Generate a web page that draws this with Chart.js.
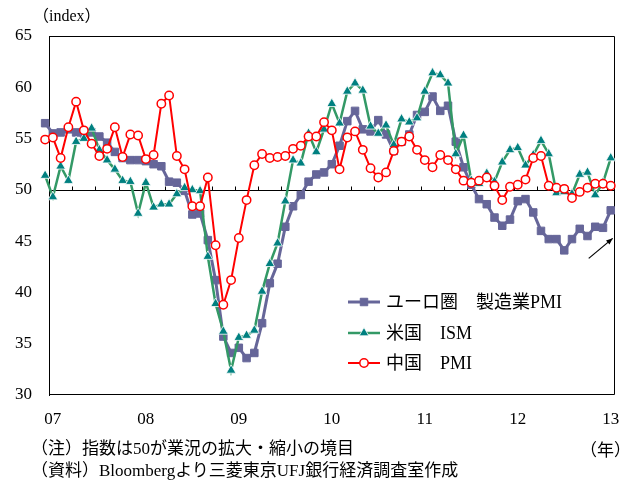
<!DOCTYPE html>
<html><head><meta charset="utf-8">
<script src="https://cdn.jsdelivr.net/npm/chart.js@4.4.1/dist/chart.umd.min.js"></script>
<style>
html,body{margin:0;padding:0;background:#fff;}
#wrap{position:relative;width:621px;height:485px;overflow:hidden;background:#fff;}
#c{position:absolute;left:0;top:0;}
.t{position:absolute;font-family:"Liberation Serif","Noto Sans CJK JP",serif;color:#000;white-space:nowrap;line-height:1;}
</style></head><body>
<div id="wrap">
<canvas id="c" width="621" height="485"></canvas>
<div class="t" style="left:33px;top:8px;font-size:16px;">（index）</div>
<div class="t" style="left:31px;top:440px;font-size:17px;">（注）指数は50が業況の拡大・縮小の境目</div>
<div class="t" style="left:31px;top:462px;font-size:17px;">（資料）Bloombergより三菱東京UFJ銀行経済調査室作成</div>
<div class="t" style="left:580px;top:442px;font-size:17px;">（年）</div>
</div>
<script>
// ---- data (Dec 2006 .. Jan 2013, monthly) ----
const months = [];
for (let yr = 2006; yr <= 2013; yr++) {
  for (let m = 1; m <= 12; m++) {
    if (yr === 2006 && m < 12) continue;
    if (yr === 2013 && m > 1) break;
    months.push(yr + '-' + String(m).padStart(2, '0'));
  }
}
const seriesNames = ['ユーロ圏　製造業PMI', '米国　ISM', '中国　PMI'];
const yTicks = [30, 35, 40, 45, 50, 55, 60, 65];

const euroPMI = [
  56.5,
  55.5, 55.6, 55.9, 55.6, 55.5, 55.6, 55.2, 54.6, 53.7, 53.1, 52.9, 52.9,
  52.8, 52.5, 52.3, 50.8, 50.7, 49.9, 47.6, 47.7, 45.1, 41.2, 35.7, 34.1,
  34.6, 33.6, 34.1, 37.0, 40.9, 42.8, 46.4, 48.4, 49.5, 50.8, 51.5, 51.7,
  52.5, 54.3, 56.7, 57.7, 55.9, 55.7, 56.8, 55.4, 53.8, 54.7, 55.4, 57.3,
  57.6, 59.1, 57.7, 58.2, 54.7, 52.2, 50.5, 49.1, 48.6, 47.3, 46.5, 47.1,
  48.9, 49.1, 47.8, 46.0, 45.2, 45.2, 44.1, 45.2, 46.2, 45.5, 46.4, 46.3,
  48.0
];
const usISM = [
  51.4,
  49.3, 52.3, 50.9, 54.7, 55.0, 56.0, 53.9, 52.9, 52.0, 50.9, 50.8, 47.7,
  50.7, 48.3, 48.6, 48.6, 49.6, 50.2, 50.0, 49.9, 43.5, 38.9, 36.2, 32.4,
  35.6, 35.8, 36.3, 40.1, 42.8, 44.8, 48.9, 52.9, 52.6, 55.5, 53.7, 55.9,
  58.4, 56.5, 59.6, 60.4, 59.7, 56.2, 55.5, 56.3, 54.4, 56.9, 56.6, 57.0,
  59.6, 61.4, 61.2, 60.4, 53.5, 55.3, 50.9, 50.6, 51.6, 50.8, 52.7, 53.9,
  54.1, 52.4, 53.4, 54.8, 53.5, 49.7, 49.8, 49.6, 51.5, 51.7, 49.5, 50.7,
  53.1
];
const chinaPMI = [
  54.9,
  55.1, 53.1, 56.1, 58.6, 55.8, 54.5, 53.3, 54.0, 56.1, 53.2, 55.4, 55.3,
  53.0, 53.4, 58.4, 59.2, 53.3, 52.0, 48.4, 48.4, 51.2, 44.6, 38.8, 41.2,
  45.3, 49.0, 52.4, 53.5, 53.1, 53.2, 53.3, 54.0, 54.3, 55.2, 55.2, 56.6,
  55.8, 52.0, 55.1, 55.7, 53.9, 52.1, 51.2, 51.7, 53.8, 54.7, 55.2, 53.9,
  52.9, 52.2, 53.4, 52.9, 52.0, 50.9, 50.7, 50.9, 51.2, 50.4, 49.0, 50.3,
  50.5, 51.0, 53.1, 53.3, 50.4, 50.2, 50.1, 49.2, 49.8, 50.2, 50.6, 50.6,
  50.4
];

const FONT = '"Liberation Serif", "Noto Sans CJK JP", serif';
const CLIP = {left: 9, top: 0, right: 4, bottom: 0};

const decor = {
  id: 'decor',
  beforeDatasetsDraw(chart) {
    const {ctx, chartArea: a, scales: {x, y}} = chart;
    ctx.save();
    ctx.strokeStyle = '#000';
    ctx.lineWidth = 1;
    const L = Math.round(a.left) + 0.5, R = Math.round(a.right) - 0.5;
    const T = Math.round(a.top) + 0.5, B = Math.round(a.bottom) - 0.5;
    ctx.beginPath();
    ctx.moveTo(L, T); ctx.lineTo(R, T); ctx.lineTo(R, B); ctx.lineTo(L, B);
    ctx.stroke();
    const y50 = Math.round(y.getPixelForValue(50)) + 0.5;
    ctx.beginPath();
    ctx.moveTo(L, y50); ctx.lineTo(R, y50);
    const slot = x.getPixelForValue(2) - x.getPixelForValue(1);
    for (let i = 1; i < months.length; i += 3) {
      const px = Math.round(x.getPixelForValue(i) - slot / 2) + 0.5;
      ctx.moveTo(px, y50); ctx.lineTo(px, y50 - 4);
    }
    ctx.stroke();
    ctx.restore();
  },
  afterDraw(chart) {
    const ctx = chart.ctx;
    ctx.save();
    // legend
    const rows = [302, 333, 363];
    const x0 = 348, x1 = 380, xt = 386;
    chart.data.datasets.forEach((ds, i) => {
      const yy = rows[i];
      ctx.strokeStyle = ds.borderColor;
      ctx.lineWidth = ds.borderWidth;
      ctx.beginPath(); ctx.moveTo(x0, yy); ctx.lineTo(x1, yy); ctx.stroke();
      const cx = (x0 + x1) / 2;
      ctx.fillStyle = ds.pointBackgroundColor;
      ctx.strokeStyle = ds.pointBorderColor;
      ctx.lineWidth = ds.pointBorderWidth;
      const r = ds.pointRadius;
      ctx.beginPath();
      if (ds.pointStyle === 'rect') {
        const s = r * Math.SQRT1_2;
        ctx.rect(cx - s, yy - s, 2 * s, 2 * s);
      } else if (ds.pointStyle === 'triangle') {
        ctx.moveTo(cx, yy - r);
        ctx.lineTo(cx + r * 0.866, yy + r * 0.5);
        ctx.lineTo(cx - r * 0.866, yy + r * 0.5);
        ctx.closePath();
      } else {
        ctx.arc(cx, yy, r, 0, Math.PI * 2);
      }
      ctx.fill(); ctx.stroke();
      ctx.fillStyle = '#000';
      ctx.font = '18px ' + FONT;
      ctx.textBaseline = 'middle';
      ctx.textAlign = 'left';
      ctx.fillText(ds.label, xt, yy + 1);
    });
    // arrow pointing to latest euro-area value
    const meta = chart.getDatasetMeta(0);
    const p = meta.data[meta.data.length - 1];
    const ex = p.x + 2, ey = p.y + 28, sx = p.x - 22, sy = p.y + 48;
    ctx.strokeStyle = '#000'; ctx.fillStyle = '#000'; ctx.lineWidth = 1.2;
    ctx.beginPath(); ctx.moveTo(sx, sy); ctx.lineTo(ex, ey); ctx.stroke();
    const ang = Math.atan2(ey - sy, ex - sx);
    ctx.beginPath();
    ctx.moveTo(ex, ey);
    ctx.lineTo(ex - 7 * Math.cos(ang - 0.4), ey - 7 * Math.sin(ang - 0.4));
    ctx.lineTo(ex - 7 * Math.cos(ang + 0.4), ey - 7 * Math.sin(ang + 0.4));
    ctx.closePath(); ctx.fill();
    ctx.restore();
  }
};

new Chart(document.getElementById('c'), {
  type: 'line',
  data: {
    labels: months,
    datasets: [
      {label: seriesNames[0], data: euroPMI, order: 3, clip: CLIP,
       borderColor: '#666699', borderWidth: 3,
       pointStyle: 'rect', pointRadius: 5.3, pointBackgroundColor: '#666699',
       pointBorderColor: '#666699', pointBorderWidth: 1},
      {label: seriesNames[1], data: usISM, order: 2, clip: CLIP,
       borderColor: '#339966', borderWidth: 2.5,
       pointStyle: 'triangle', pointRadius: 5.6, pointBackgroundColor: '#008080',
       pointBorderColor: '#ffffff', pointBorderWidth: 0.8},
      {label: seriesNames[2], data: chinaPMI, order: 1, clip: CLIP,
       borderColor: '#ff0000', borderWidth: 2,
       pointStyle: 'circle', pointRadius: 4.2, pointBackgroundColor: '#ffffff',
       pointBorderColor: '#ff0000', pointBorderWidth: 1.5}
    ]
  },
  options: {
    responsive: false,
    animation: false,
    devicePixelRatio: 1,
    layout: {padding: {left: 0, right: 6, top: 36, bottom: 50}},
    plugins: {legend: {display: false}, tooltip: {enabled: false}},
    elements: {line: {tension: 0}},
    scales: {
      x: {
        type: 'category',
        min: 1,
        offset: true,
        grid: {display: false, drawTicks: false},
        border: {display: false},
        ticks: {
          autoSkip: false, maxRotation: 0, padding: 14, labelOffset: 0,
          color: '#000', font: {family: FONT, size: 17},
          callback: (v) => months[v] && months[v].endsWith('-01') ? months[v].slice(2, 4) : ''
        },
        afterFit: (s) => { s.height = 40; s.paddingLeft = 0; s.paddingRight = 0; }
      },
      y: {
        min: 30, max: 65,
        afterBuildTicks: (s) => { s.ticks = yTicks.map(v => ({value: v})); },
        grid: {display: false, drawTicks: false},
        border: {display: true, color: '#000', width: 1},
        ticks: {padding: 17, color: '#000', font: {family: FONT, size: 17}},
        afterFit: (s) => { s.width = 49; }
      }
    }
  },
  plugins: [decor]
});
</script>
</body></html>
